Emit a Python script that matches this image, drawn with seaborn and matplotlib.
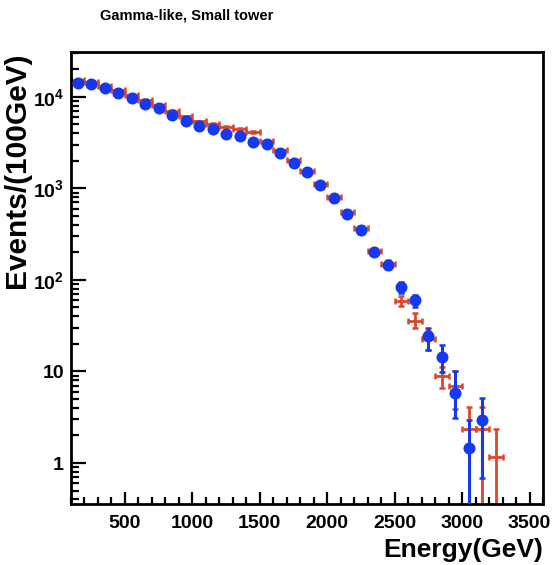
import numpy as np
import pandas as pd
import matplotlib
matplotlib.use('Agg')
import matplotlib.pyplot as plt
import seaborn as sns
from matplotlib.ticker import FixedLocator, FixedFormatter, LogLocator, MultipleLocator, NullFormatter

sns.set_theme(style='ticks')
plt.rcParams['font.family'] = ['Liberation Sans', 'DejaVu Sans']
plt.rcParams['mathtext.fontset'] = 'custom'
plt.rcParams['mathtext.rm'] = 'Liberation Sans'
plt.rcParams['mathtext.bf'] = 'Liberation Sans:bold'
plt.rcParams['text.color'] = 'black'
plt.rcParams['axes.labelcolor'] = 'black'

# DATA ----
blue_energy = [150, 250, 350, 450, 550, 650, 750, 850, 950, 1050, 1150, 1250, 1350, 1450, 1550,
               1650, 1750, 1850, 1950, 2050, 2150, 2250, 2350, 2450, 2550, 2650, 2750, 2850, 2950,
               3050, 3150]
blue_events = [14300, 13800, 12400, 11100, 9700, 8400, 7600, 6350, 5470, 4740, 4460, 3940, 3680, 3220,
               3060, 2440, 1910, 1490, 1075, 775, 526, 351, 202, 146, 83, 60, 24.4, 14.5, 5.8, 1.45, 2.95]
blue_err_lo = [140, 140, 130, 125, 115, 110, 100, 95, 90, 80, 80, 75, 70, 70, 65, 60, 52, 46, 40, 34,
               28, 22, 17, 14, 11, 9, 7.2, 4.7, 2.7, 1.449, 2.27]
blue_err_hi = [140, 140, 130, 125, 115, 110, 100, 95, 90, 80, 80, 75, 70, 70, 65, 60, 52, 46, 40, 34,
               28, 22, 17, 14, 11, 9, 5.5, 5.1, 4.2, 1.5, 2.15]

red_energy = [150, 250, 350, 450, 550, 650, 750, 850, 950, 1050, 1150, 1250, 1350, 1450, 1550,
              1650, 1750, 1850, 1950, 2050, 2150, 2250, 2350, 2450, 2550, 2650, 2750, 2850, 2950,
              3050, 3150, 3250]
red_events = [15300, 14500, 13000, 11700, 10500, 9300, 8200, 7000, 6100, 5400, 5100, 4700, 4450, 4100,
              3300, 2650, 2050, 1550, 1120, 800, 545, 365, 205, 150, 59, 35.6, 22.5, 8.9, 7.0, 2.36,
              2.36, 1.15]
red_err_lo = [150, 145, 135, 130, 125, 120, 110, 105, 95, 85, 85, 80, 80, 75, 70, 60, 55, 48, 40, 34,
              28, 23, 17, 14, 7, 6, 5.5, 2.3, 3.1, 2.359, 2.359, 1.149]
red_err_hi = [150, 145, 135, 130, 125, 120, 110, 105, 95, 85, 85, 80, 80, 75, 70, 60, 55, 48, 40, 34,
              28, 23, 17, 14, 7, 7.7, 5.5, 2.3, 3.0, 1.74, 1.74, 1.2]
bin_half = 50

y_ticks = [1, 10, 100, 1000, 10000]
y_tick_labels = ['1', '10', r'$\mathbf{10^{2}}$', r'$\mathbf{10^{3}}$', r'$\mathbf{10^{4}}$']
x_ticks = [500, 1000, 1500, 2000, 2500, 3000, 3500]

blue_df = pd.DataFrame({'Energy': blue_energy, 'Events': blue_events})

BLUE = '#1638ee'
RED = '#d9482a'

fig = plt.figure(figsize=(5.53, 5.65), dpi=100)
ax = fig.add_axes([71 / 553, 1 - 504 / 565, 472 / 553, 452 / 565])

# RED HISTOGRAM (crosses) ----
ax.errorbar(red_energy, red_events, xerr=bin_half, yerr=[red_err_lo, red_err_hi],
            fmt='none', ecolor=RED, elinewidth=2.0, capsize=2.5, capthick=1.8, zorder=2)

# BLUE POINTS ----
ax.errorbar(blue_energy, blue_events, yerr=[blue_err_lo, blue_err_hi],
            fmt='none', ecolor=BLUE, elinewidth=2.2, capsize=2.5, capthick=1.8, zorder=3)
sns.scatterplot(data=blue_df, x='Energy', y='Events', color=BLUE, s=75, linewidth=0,
                edgecolor=BLUE, ax=ax, zorder=4)

ax.set_yscale('log')
ax.set_xlim(100, 3600)
ax.set_ylim(0.357, 30800)

ax.xaxis.set_major_locator(FixedLocator(x_ticks))
ax.xaxis.set_minor_locator(MultipleLocator(100))
ax.yaxis.set_major_locator(FixedLocator(y_ticks))
ax.yaxis.set_major_formatter(FixedFormatter(y_tick_labels))
ax.yaxis.set_minor_locator(LogLocator(base=10, subs=np.arange(2, 10)))
ax.yaxis.set_minor_formatter(NullFormatter())

ax.tick_params(axis='both', which='both', direction='in', colors='black', width=1.6,
               top=False, right=False)
ax.tick_params(axis='x', which='major', length=9, pad=8, labelsize=14)
ax.tick_params(axis='x', which='minor', length=5)
ax.tick_params(axis='y', which='major', length=11, pad=5, labelsize=14)
ax.tick_params(axis='y', which='minor', length=6)
for lab in ax.get_xticklabels() + ax.get_yticklabels():
    lab.set_fontweight('bold')

for sp in ax.spines.values():
    sp.set_linewidth(2.0)
    sp.set_color('black')

ax.set_xlabel('Energy(GeV)', loc='right', fontsize=19, fontweight='bold', labelpad=4)
ax.set_ylabel('Events/(100GeV)', loc='top', fontsize=21.5, fontweight='bold', labelpad=1)

fig.text(100 / 553, 1 - 15 / 565, 'Gamma-like, Small tower', ha='left', va='center',
         fontsize=10.5, fontweight='bold')

fig.savefig('out.png', dpi=100)
